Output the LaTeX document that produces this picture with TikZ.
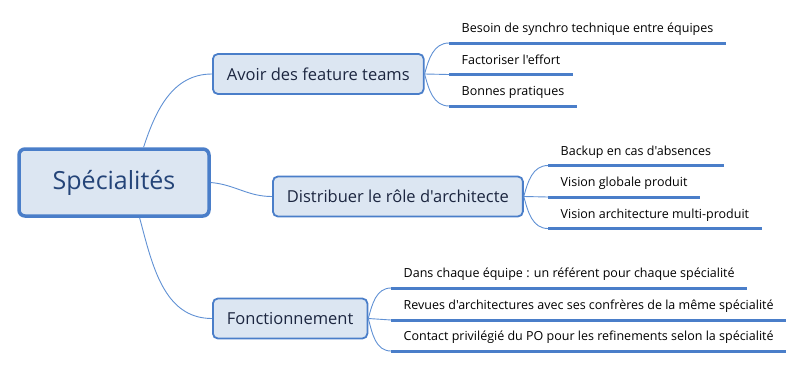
\documentclass[tikz,border=0pt]{standalone}
\usepackage{fontspec}
\setmainfont{Open Sans}[Ligatures=TeXOff]
\usepackage{xcolor}
\usepackage{tikz}
\usetikzlibrary{positioning}

\definecolor{boxline}{RGB}{74,126,201}
\definecolor{boxfill}{RGB}{220,230,242}
\definecolor{linkcol}{RGB}{96,145,212}
\definecolor{roottext}{RGB}{36,68,120}
\definecolor{topictext}{RGB}{28,38,64}

\begin{document}
\begin{tikzpicture}[x=1pt, y=-1pt,
  rootnode/.style={
    draw=boxline, line width=3.5pt, fill=boxfill, rounded corners=6pt,
    minimum width=190pt, minimum height=67pt,
    font=\fontsize{25}{30}\selectfont, text=roottext
  },
  topicnode/.style={
    draw=boxline, line width=1.8pt, fill=boxfill, rounded corners=5pt,
    minimum height=40pt, inner xsep=14pt, anchor=west,
    font=\fontsize{16.5}{20}\selectfont, text=topictext
  },
  leafnode/.style={
    anchor=south west, inner xsep=12.5pt, inner ysep=0pt,
    text height=10pt, text depth=10pt,
    font=\fontsize{12.5}{15}\selectfont, text=black
  },
  uline/.style={draw=boxline, line width=3pt},
  link/.style={draw=linkcol, line width=0.9pt},
]
\useasboundingbox (0,0) rectangle (800,367);

%% -- Central topic ------------------------------------------------------------
\node[rootnode] (root) at (114,182.5) {Spécialités};

%% -- Main topics --------------------------------------------------------------
\node[topicnode] (feat)  at (212,74)    {Avoir des feature teams};
\node[topicnode] (archi) at (272,196.5) {Distribuer le rôle d'architecte};
\node[topicnode] (fonct) at (212,318.5) {Fonctionnement};

%% -- Subtopics ----------------------------------------------------------------
\node[leafnode] (feat1)  at (449,43)    {Besoin de synchro technique entre équipes};
\node[leafnode] (feat2)  at (449,74.5)  {Factoriser l'effort};
\node[leafnode] (feat3)  at (449,106)   {Bonnes pratiques};

\node[leafnode] (archi1) at (548,165.5) {Backup en cas d'absences};
\node[leafnode] (archi2) at (548,197)   {Vision globale produit};
\node[leafnode] (archi3) at (548,228.5) {Vision architecture multi-produit};

\node[leafnode] (fonct1) at (391,288)   {Dans chaque équipe : un référent pour chaque spécialité};
\node[leafnode] (fonct2) at (391,320)   {Revues d'architectures avec ses confrères de la même spécialité};
\node[leafnode] (fonct3) at (391,351)   {Contact privilégié du PO pour les refinements selon la spécialité};

%% -- Underlines ---------------------------------------------------------------
\foreach \n in {feat1,feat2,feat3,archi1,archi2,archi3,fonct1,fonct2,fonct3}
  \draw[uline] (\n.south west) -- (\n.south east);

%% -- Links --------------------------------------------------------------------
\draw[link] (root.50)  to[out=72, in=180] (feat.west);
\draw[link] (root.east) to[out=-5, in=180] (archi.west);
\draw[link] (root.-54) to[out=-75, in=180] (fonct.west);

\draw[link] (feat.east)  to[out=75, in=180]  (feat1.south west);
\draw[link] (feat.east)  -- (feat2.south west);
\draw[link] (feat.east)  to[out=-75, in=180] (feat3.south west);

\draw[link] (archi.east) to[out=75, in=180]  (archi1.south west);
\draw[link] (archi.east) -- (archi2.south west);
\draw[link] (archi.east) to[out=-75, in=180] (archi3.south west);

\draw[link] (fonct.east) to[out=75, in=180]  (fonct1.south west);
\draw[link] (fonct.east) -- (fonct2.south west);
\draw[link] (fonct.east) to[out=-75, in=180] (fonct3.south west);

\end{tikzpicture}
\end{document}
